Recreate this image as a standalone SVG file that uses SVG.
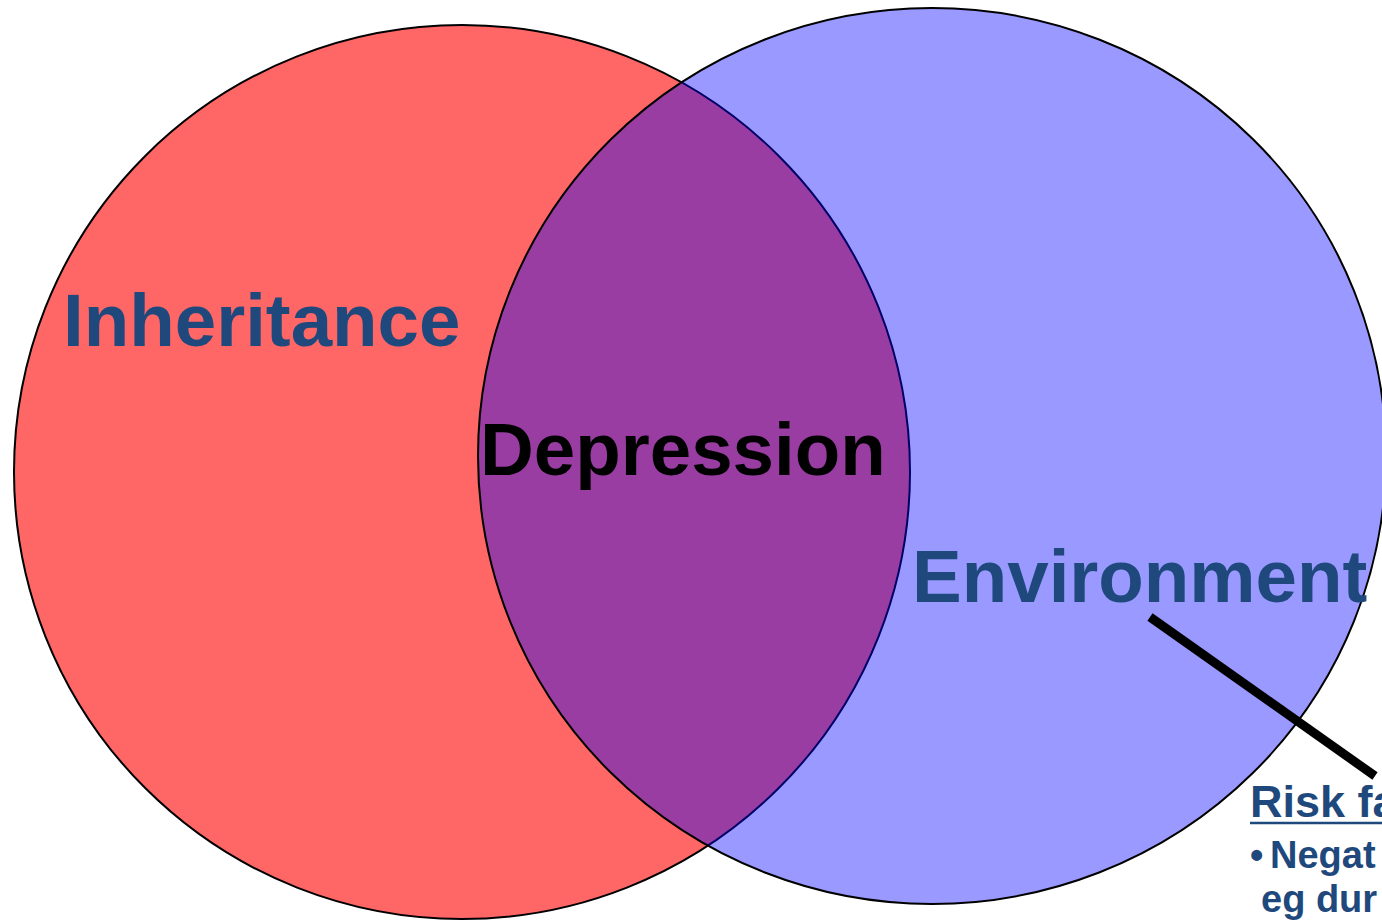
<svg xmlns="http://www.w3.org/2000/svg" width="1382" height="920" viewBox="0 0 1382 920">
<style>
  text { font-family: "Liberation Sans", Arial, sans-serif; font-weight: bold; }
  .big { font-size: 74.5px; }
  .lbl { fill: #1F497D; }
</style>
<rect width="1382" height="920" fill="#FFFFFF"/>
<g id="inheritance">
  <ellipse cx="462" cy="472" rx="448" ry="447" fill="#FF6666" stroke="#000000" stroke-width="2"/>
  <text class="big lbl" x="63" y="346">Inheritance</text>
</g>
<g id="environment">
  <ellipse cx="932" cy="456" rx="454" ry="448" fill="#0000FF" fill-opacity="0.4" stroke="#000000" stroke-width="2"/>
  <text class="big lbl" x="912" y="602">Environment</text>
</g>
<g id="depression">
  <text class="big" x="480" y="475" fill="#000000">Depression</text>
</g>
<g id="connectors">
  <line x1="1150" y1="617" x2="1375" y2="776" stroke="#000000" stroke-width="9"/>
</g>
<g id="risk">
  <text class="lbl" x="1250" y="817" font-size="45">Risk fa</text>
  <line x1="1250" y1="823" x2="1382" y2="823" stroke="#1F497D" stroke-width="2.5"/>
  <text class="lbl" x="1250" y="868" font-size="38">•<tspan x="1270">Negat</tspan></text>
  <text class="lbl" x="1261" y="912" font-size="38">eg dur</text>
</g>
</svg>
